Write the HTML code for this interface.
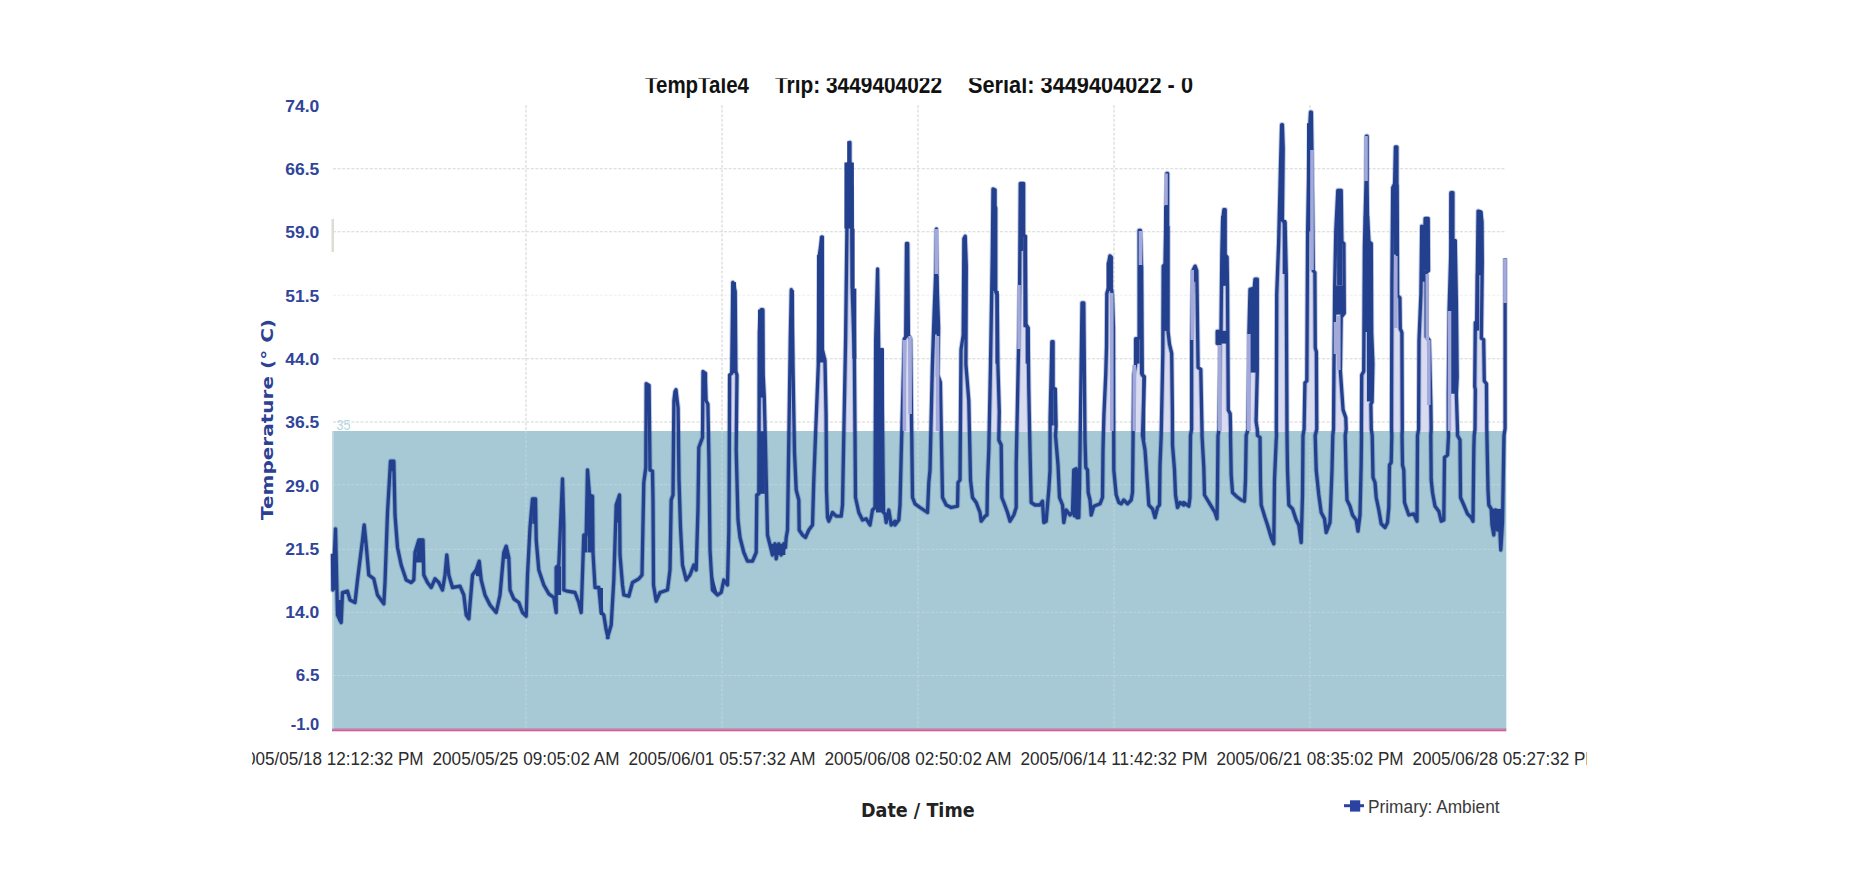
<!DOCTYPE html>
<html><head><meta charset="utf-8"><title>TempTale4 chart</title>
<style>
html,body{margin:0;padding:0;background:#fff;}
body{width:1854px;height:880px;overflow:hidden;position:relative;font-family:"Liberation Sans",sans-serif;}
svg{position:absolute;left:0;top:0;}
.yl{font-family:"Liberation Sans",sans-serif;font-weight:bold;font-size:16.6px;fill:#30449a;}
.xl{font-family:"Liberation Sans",sans-serif;font-size:17.5px;fill:#2b2b2b;}
.tt{font-family:"Liberation Sans",sans-serif;font-weight:bold;font-size:23px;fill:#111;}
</style></head><body>
<svg width="1854" height="880" viewBox="0 0 1854 880">
<defs>
<clipPath id="ct"><rect x="600" y="78.3" width="640" height="20"/></clipPath>
<clipPath id="cx"><rect x="252" y="745" width="1335" height="30"/></clipPath>
<filter id="bl2" x="-5%" y="-5%" width="110%" height="110%"><feGaussianBlur stdDeviation="1.2"/></filter>
<filter id="bl" x="-5%" y="-5%" width="110%" height="110%"><feGaussianBlur stdDeviation="0.75"/></filter>
</defs>
<rect x="0" y="0" width="1854" height="880" fill="#ffffff"/>

<line x1="333" x2="1506" y1="168.7" y2="168.7" stroke="#d6d6d6" stroke-width="1.1" stroke-dasharray="3 1.6"/>
<line x1="333" x2="1506" y1="231.7" y2="231.7" stroke="#d6d6d6" stroke-width="1.1" stroke-dasharray="3 1.6"/>
<line x1="333" x2="1506" y1="358.8" y2="358.8" stroke="#d6d6d6" stroke-width="1.1" stroke-dasharray="3 1.6"/>
<line x1="333" x2="1506" y1="422" y2="422" stroke="#d6d6d6" stroke-width="1.1" stroke-dasharray="3 1.6"/>
<line x1="333" x2="1506" y1="295.3" y2="295.3" stroke="#f0f0f0" stroke-width="1.1" stroke-dasharray="3 1.6"/>
<line x1="526" x2="526" y1="105" y2="431" stroke="#d6d6d6" stroke-width="1.1" stroke-dasharray="3 1.6"/>
<line x1="722" x2="722" y1="105" y2="431" stroke="#d6d6d6" stroke-width="1.1" stroke-dasharray="3 1.6"/>
<line x1="918" x2="918" y1="105" y2="431" stroke="#d6d6d6" stroke-width="1.1" stroke-dasharray="3 1.6"/>
<line x1="1114" x2="1114" y1="105" y2="431" stroke="#d6d6d6" stroke-width="1.1" stroke-dasharray="3 1.6"/>
<line x1="1310" x2="1310" y1="105" y2="431" stroke="#d6d6d6" stroke-width="1.1" stroke-dasharray="3 1.6"/>
<rect x="332" y="431" width="1174.3" height="298.5" fill="#a6c9d5"/>
<line x1="333" x2="1506" y1="484.8" y2="484.8" stroke="#bcd6df" stroke-width="1.1" stroke-dasharray="3 1.6"/>
<line x1="333" x2="1506" y1="549.2" y2="549.2" stroke="#bcd6df" stroke-width="1.1" stroke-dasharray="3 1.6"/>
<line x1="333" x2="1506" y1="612.2" y2="612.2" stroke="#bcd6df" stroke-width="1.1" stroke-dasharray="3 1.6"/>
<line x1="333" x2="1506" y1="675.5" y2="675.5" stroke="#bcd6df" stroke-width="1.1" stroke-dasharray="3 1.6"/>
<line x1="526" x2="526" y1="431" y2="728" stroke="#bcd6df" stroke-width="1.1" stroke-dasharray="3 1.6"/>
<line x1="722" x2="722" y1="431" y2="728" stroke="#bcd6df" stroke-width="1.1" stroke-dasharray="3 1.6"/>
<line x1="918" x2="918" y1="431" y2="728" stroke="#bcd6df" stroke-width="1.1" stroke-dasharray="3 1.6"/>
<line x1="1114" x2="1114" y1="431" y2="728" stroke="#bcd6df" stroke-width="1.1" stroke-dasharray="3 1.6"/>
<line x1="1310" x2="1310" y1="431" y2="728" stroke="#bcd6df" stroke-width="1.1" stroke-dasharray="3 1.6"/>
<rect x="332" y="728.2" width="1174.3" height="1.4" fill="#b690bd"/><rect x="332" y="729.4" width="1174.3" height="1.9" fill="#d0608f"/><rect x="332" y="431" width="1.8" height="297.5" fill="#c3dbe3"/>
<rect x="331.5" y="219" width="2.5" height="33" fill="#ddddd6"/>
<text x="336.5" y="429.5" textLength="14" lengthAdjust="spacingAndGlyphs" style="font-family:'Liberation Sans',sans-serif;font-size:15px;fill:#b4d6e2">35</text>
<polygon fill="#d9dbf0" points="673.9,432.0 673.9,400.6 675.0,391.5 676.0,389.7 677.0,398.8 678.1,407.9 678.1,432.0"/>
<polygon fill="#d9dbf0" points="703.0,432.0 703.0,371.5 705.5,373.3 705.5,380.6 706.1,400.6 707.9,404.2 707.9,432.0"/>
<polygon fill="#d9dbf0" points="729.6,432.0 729.6,375.1 731.7,373.3 732.8,282.4 733.3,284.2 735.2,291.5 735.9,371.5 737.0,375.1 737.0,432.0"/>
<polygon fill="#d9dbf0" points="759.4,432.0 759.4,331.5 761.2,309.7 761.8,309.7 762.1,309.7 762.8,309.7 763.2,375.1 764.3,397.0 764.3,432.0"/>
<polygon fill="#d9dbf0" points="790.3,432.0 790.3,338.8 791.3,289.7 792.3,324.2 792.3,432.0"/>
<polygon fill="#d9dbf0" points="818.3,432.0 818.3,364.2 819.4,255.1 821.9,237.0 822.2,237.0 822.4,349.7 825.0,360.6 826.1,415.1 826.1,432.0"/>
<polygon fill="#d9dbf0" points="845.6,432.0 845.6,338.8 847.7,164.2 849.2,226.1 849.9,142.4 850.0,226.1 850.0,160.6 850.8,226.1 851.5,186.1 852.3,291.5 854.4,357.0 854.4,432.0"/>
<polygon fill="#d9dbf0" points="875.7,432.0 875.7,338.8 877.6,269.0 878.7,349.7 878.7,349.7 879.9,349.7 881.7,349.7 881.7,432.0"/>
<polygon fill="#d9dbf0" points="904.3,432.0 904.3,338.8 905.7,337.0 906.5,243.5 907.7,243.5 908.4,335.1 910.6,338.8 910.6,432.0"/>
<polygon fill="#d9dbf0" points="932.3,432.0 932.3,367.9 934.1,313.3 935.6,275.1 936.4,229.0 936.4,229.0 936.8,275.1 938.6,327.9 937.9,375.1 940.4,382.4 940.4,432.0"/>
<polygon fill="#d9dbf0" points="961.0,432.0 961.0,349.7 963.2,335.1 963.9,238.8 965.2,236.2 966.3,266.1 965.9,364.2 968.8,400.6 968.8,432.0"/>
<polygon fill="#d9dbf0" points="990.5,432.0 990.5,364.2 992.3,255.1 993.0,189.0 994.9,189.7 994.9,206.1 995.7,207.9 995.7,291.5 997.2,295.1 997.9,364.2 999.3,411.5 999.3,432.0"/>
<polygon fill="#d9dbf0" points="1018.5,432.0 1018.5,349.7 1019.6,284.2 1020.3,183.5 1023.6,183.5 1023.6,235.1 1025.2,236.2 1025.9,324.2 1028.1,327.9 1028.8,389.7 1028.8,432.0"/>
<polygon fill="#d9dbf0" points="1050.1,432.0 1050.1,418.8 1051.9,341.7 1053.1,341.7 1053.1,387.9 1055.3,389.0 1056.1,426.1 1056.1,432.0"/>
<polygon fill="#d9dbf0" points="1103.9,432.0 1103.9,415.1 1105.7,375.1 1106.5,346.1 1106.8,293.3 1108.7,287.9 1108.7,262.4 1109.9,255.9 1111.3,257.0 1111.3,287.9 1112.4,295.1 1113.5,327.9 1113.5,432.0"/>
<polygon fill="#d9dbf0" points="1133.7,432.0 1133.7,375.1 1135.6,364.2 1135.6,338.8 1139.1,337.7 1139.1,266.1 1139.1,230.4 1140.4,230.4 1141.5,266.1 1142.3,375.1 1144.4,377.0 1144.4,432.0"/>
<polygon fill="#d9dbf0" points="1162.8,432.0 1162.8,353.3 1163.2,266.1 1165.0,264.2 1166.1,206.1 1166.8,173.3 1167.6,173.3 1167.6,226.1 1168.1,226.8 1168.1,331.5 1169.5,344.2 1171.7,353.3 1172.4,411.5 1172.4,432.0"/>
<polygon fill="#d9dbf0" points="1191.6,432.0 1191.6,429.2 1191.6,340.3 1192.8,270.7 1195.1,266.1 1196.8,270.7 1197.0,284.2 1198.1,367.4 1200.8,369.3 1202.0,429.2 1202.0,432.0"/>
<polygon fill="#d9dbf0" points="1219.1,432.0 1219.1,429.2 1219.9,344.2 1217.2,343.4 1217.2,331.4 1221.0,330.6 1221.8,255.2 1222.6,220.4 1223.9,209.6 1225.2,209.6 1225.2,255.2 1227.1,257.2 1227.5,286.2 1228.3,409.9 1230.2,413.7 1230.6,429.2 1230.6,432.0"/>
<polygon fill="#d9dbf0" points="1248.1,432.0 1248.1,429.2 1248.9,332.6 1250.0,289.3 1254.2,288.1 1255.0,279.2 1257.3,279.2 1257.3,371.2 1256.1,421.5 1257.3,429.2 1257.3,432.0"/>
<polygon fill="#d9dbf0" points="1276.3,432.0 1276.3,429.2 1276.7,293.9 1278.6,243.6 1280.6,162.5 1281.7,124.6 1282.4,124.6 1283.2,148.9 1282.4,220.4 1285.1,222.4 1286.3,274.6 1287.0,429.2 1287.0,432.0"/>
<polygon fill="#d9dbf0" points="1304.1,432.0 1304.1,429.2 1304.9,382.8 1306.8,380.9 1307.6,232.0 1308.8,170.2 1309.9,123.8 1310.5,112.2 1311.4,112.2 1312.2,170.2 1313.3,270.7 1314.9,272.6 1315.3,348.0 1316.4,351.9 1316.8,429.2 1316.8,432.0"/>
<polygon fill="#d9dbf0" points="1333.5,432.0 1333.5,429.2 1333.9,371.2 1334.7,286.2 1335.8,230.1 1337.8,190.3 1341.2,190.3 1341.9,241.7 1343.9,243.6 1344.3,313.2 1341.2,317.1 1340.4,371.2 1343.1,409.9 1345.8,417.6 1346.2,429.2 1346.2,432.0"/>
<polygon fill="#d9dbf0" points="1361.4,432.0 1361.4,429.2 1361.7,375.1 1363.7,371.2 1364.4,247.5 1366.0,181.8 1366.4,136.2 1367.1,136.2 1367.1,181.8 1367.5,216.6 1369.0,241.7 1371.3,243.6 1371.7,332.6 1372.9,363.5 1372.1,402.1 1370.9,404.1 1371.3,429.2 1371.3,432.0"/>
<polygon fill="#d9dbf0" points="1391.5,432.0 1391.5,429.2 1391.9,282.3 1392.7,187.6 1394.6,183.7 1395.4,147.0 1396.9,147.0 1396.9,183.7 1397.2,185.7 1397.6,295.8 1399.9,297.8 1400.3,328.7 1401.9,332.6 1402.3,429.2 1402.3,432.0"/>
<polygon fill="#d9dbf0" points="1418.6,432.0 1418.6,429.2 1419.0,340.3 1420.9,293.9 1421.7,226.2 1424.8,227.4 1424.9,234.0 1424.9,232.0 1425.1,218.5 1428.2,218.5 1428.5,270.7 1426.2,272.6 1426.2,336.4 1429.3,340.3 1430.9,406.0 1431.2,429.2 1431.2,432.0"/>
<polygon fill="#d9dbf0" points="1448.3,432.0 1448.3,429.2 1448.3,394.4 1449.1,309.4 1450.7,255.2 1451.0,192.6 1452.9,192.6 1452.9,239.8 1455.2,240.5 1456.4,301.6 1457.2,377.0 1456.4,394.4 1457.5,429.2 1457.5,432.0"/>
<polygon fill="#d9dbf0" points="1475.0,432.0 1475.0,429.2 1475.3,389.5 1474.7,386.6 1475.3,322.7 1476.7,321.3 1477.3,274.4 1478.1,211.1 1480.8,211.9 1482.0,221.8 1482.3,261.6 1481.4,338.3 1483.7,339.7 1484.3,380.9 1486.5,383.8 1486.8,429.2 1486.8,432.0"/>
<polyline fill="none" stroke="#24408e" stroke-opacity="0.28" stroke-width="5.2" stroke-linejoin="round" filter="url(#bl)" points="332.5,553.8 332.8,590.0 335.5,528.8 337.5,615.0 341.2,622.5 342.5,592.5 347.5,591.2 350.0,600.0 355.0,602.5 357.5,580.0 362.5,540.0 364.2,525.0 366.2,545.0 368.8,575.0 373.8,578.8 377.5,595.0 383.8,603.8 385.0,582.5 387.5,512.5 390.5,461.2 393.8,461.2 395.0,515.0 397.5,547.5 401.2,565.0 406.2,580.0 411.2,582.5 413.8,580.0 415.0,552.5 418.8,540.0 423.0,540.0 423.8,575.0 427.5,582.5 431.2,587.5 435.0,578.8 438.8,582.5 442.5,590.0 445.0,575.0 446.8,555.0 448.8,575.0 452.5,587.5 460.0,586.2 463.8,595.0 466.2,615.0 468.8,618.8 472.5,575.0 476.2,570.0 479.2,561.2 481.2,580.0 485.0,595.0 490.0,605.0 496.2,612.5 500.0,595.0 503.8,552.5 506.2,546.2 508.8,557.5 510.0,590.0 513.8,598.8 518.8,602.5 522.5,612.5 526.2,616.2 527.5,575.0 530.0,527.5 532.5,498.8 535.5,498.8 536.2,540.0 538.8,570.0 543.8,585.0 548.8,593.8 553.8,597.5 556.2,612.5 556.2,567.5 558.8,565.0 560.5,525.0 562.5,478.8 563.8,525.0 563.8,590.0 567.5,591.2 575.0,592.5 578.8,602.5 581.2,612.5 583.8,535.0 586.2,535.0 587.5,470.0 589.5,495.0 592.5,496.2 593.0,552.5 595.0,587.5 598.8,587.5 601.2,612.5 603.8,615.0 606.2,630.0 608.0,637.5 607.5,637.5 611.2,625.0 613.8,580.0 616.2,505.0 619.5,495.0 620.0,555.0 622.5,585.0 623.8,595.0 628.8,596.2 632.5,582.5 638.8,578.8 642.0,575.0 643.8,482.5 645.8,467.5 646.2,383.6 649.1,385.5 650.0,470.0 652.5,471.2 653.0,500.0 653.5,585.0 656.2,601.2 660.0,592.5 667.5,590.0 670.0,570.0 671.2,500.0 673.0,495.0 673.9,400.6 675.0,391.5 676.0,389.7 677.0,398.8 678.1,407.9 679.0,480.0 680.5,527.5 682.5,565.0 686.2,580.0 690.0,575.0 693.8,565.0 696.2,570.0 698.0,507.5 698.8,447.5 702.5,437.5 703.0,371.5 705.5,373.3 705.5,380.6 706.1,400.6 707.9,404.2 709.0,462.5 710.0,550.0 711.2,570.0 712.5,590.0 717.5,595.0 721.2,592.5 723.8,580.0 727.5,585.0 728.8,532.5 729.2,480.0 729.6,375.1 731.7,373.3 732.8,282.4 733.3,284.2 735.2,291.5 735.9,371.5 737.0,375.1 736.2,450.0 738.0,520.0 740.0,537.5 743.8,552.5 747.5,561.2 752.5,561.2 756.2,552.5 756.8,495.0 758.8,493.8 759.4,331.5 761.2,309.7 761.8,309.7 762.1,309.7 762.8,309.7 763.2,375.1 764.3,397.0 766.2,477.5 767.5,535.0 770.0,545.0 772.5,555.0 775.0,543.8 776.2,558.8 778.8,543.8 781.2,555.0 783.8,543.8 785.5,547.5 786.2,537.5 787.5,530.0 790.3,338.8 791.3,289.7 792.3,324.2 794.5,452.5 796.2,490.0 798.8,500.0 799.2,530.0 802.5,535.0 805.5,537.5 808.8,530.0 812.5,525.0 813.8,480.0 818.3,364.2 819.4,255.1 821.9,237.0 822.2,237.0 822.4,349.7 825.0,360.6 826.1,415.1 826.5,490.0 827.5,517.5 828.8,521.2 832.5,512.5 836.2,516.2 841.2,516.2 842.5,505.0 843.0,477.5 845.6,338.8 847.7,164.2 849.2,226.1 849.9,142.4 850.0,226.1 850.0,160.6 850.8,226.1 851.5,186.1 852.3,291.5 854.4,357.0 855.5,497.5 858.8,512.5 862.5,520.0 866.2,518.8 870.0,525.0 872.5,510.0 875.0,507.5 875.7,338.8 877.6,269.0 878.7,349.7 878.7,349.7 879.9,349.7 881.7,349.7 883.5,512.5 885.0,513.8 886.2,522.5 888.8,510.0 891.2,525.0 895.0,521.2 895.0,525.0 898.8,520.0 900.0,505.0 901.2,455.0 904.3,338.8 905.7,337.0 906.5,243.5 907.7,243.5 908.4,335.1 910.6,338.8 912.5,497.5 915.0,503.8 920.0,507.5 927.5,512.5 928.8,482.5 930.0,470.0 932.3,367.9 934.1,313.3 935.6,275.1 936.4,229.0 936.4,229.0 936.8,275.1 938.6,327.9 937.9,375.1 940.4,382.4 942.0,470.0 942.5,497.5 946.2,505.0 951.2,507.5 957.5,506.2 958.0,482.5 960.0,480.0 961.0,349.7 963.2,335.1 963.9,238.8 965.2,236.2 966.3,266.1 965.9,364.2 968.8,400.6 970.5,480.0 972.5,497.5 976.2,502.5 980.0,512.5 981.2,521.2 985.0,516.2 987.0,515.0 987.5,482.5 988.8,450.0 990.5,364.2 992.3,255.1 993.0,189.0 994.9,189.7 994.9,206.1 995.7,207.9 995.7,291.5 997.2,295.1 997.9,364.2 999.3,411.5 998.8,440.0 1001.2,445.0 1001.8,497.5 1003.8,502.5 1007.5,512.5 1010.0,521.2 1013.8,515.0 1016.2,507.5 1016.2,465.0 1018.5,349.7 1019.6,284.2 1020.3,183.5 1023.6,183.5 1023.6,235.1 1025.2,236.2 1025.9,324.2 1028.1,327.9 1028.8,389.7 1030.0,450.0 1031.2,502.5 1035.0,505.0 1040.0,505.0 1042.5,501.2 1043.8,522.5 1046.2,521.2 1047.5,505.0 1048.8,490.0 1050.0,470.0 1050.1,418.8 1051.9,341.7 1053.1,341.7 1053.1,387.9 1055.3,389.0 1056.1,426.1 1055.5,435.5 1058.0,465.0 1059.5,497.5 1062.5,505.0 1063.8,522.5 1066.2,510.0 1070.0,515.0 1072.5,512.5 1073.8,470.0 1076.2,468.8 1077.0,517.5 1078.8,517.5 1079.5,487.5 1082.0,302.9 1083.8,302.9 1085.0,440.0 1085.8,467.5 1087.5,470.0 1088.2,492.5 1090.0,500.0 1091.2,515.0 1093.8,506.2 1100.0,503.8 1102.5,497.5 1103.0,450.0 1103.9,415.1 1105.7,375.1 1106.5,346.1 1106.8,293.3 1108.7,287.9 1108.7,262.4 1109.9,255.9 1111.3,257.0 1111.3,287.9 1112.4,295.1 1113.5,327.9 1113.8,470.0 1116.2,495.0 1118.8,502.5 1121.2,503.8 1123.8,500.0 1127.5,503.8 1131.2,500.0 1132.5,492.5 1133.0,445.0 1133.7,375.1 1135.6,364.2 1135.6,338.8 1139.1,337.7 1139.1,266.1 1139.1,230.4 1140.4,230.4 1141.5,266.1 1142.3,375.1 1144.4,377.0 1142.5,435.5 1145.0,450.0 1147.5,485.0 1148.8,505.0 1152.5,508.8 1155.0,517.5 1157.5,507.5 1159.5,505.0 1160.0,465.0 1161.2,435.5 1162.8,353.3 1163.2,266.1 1165.0,264.2 1166.1,206.1 1166.8,173.3 1167.6,173.3 1167.6,226.1 1168.1,226.8 1168.1,331.5 1169.5,344.2 1171.7,353.3 1172.4,411.5 1172.5,445.0 1174.5,470.0 1175.5,495.0 1177.5,507.5 1180.0,502.5 1183.8,505.0 1183.8,502.5 1188.8,506.2 1190.0,497.5 1190.5,435.5 1191.6,429.2 1191.6,340.3 1192.8,270.7 1195.1,266.1 1196.8,270.7 1197.0,284.2 1198.1,367.4 1200.8,369.3 1202.0,429.2 1202.0,435.5 1203.8,467.5 1204.5,495.0 1207.5,500.0 1211.2,506.2 1215.0,512.5 1217.0,518.8 1217.5,487.5 1218.0,435.5 1219.1,429.2 1219.9,344.2 1217.2,343.4 1217.2,331.4 1221.0,330.6 1221.8,255.2 1222.6,220.4 1223.9,209.6 1225.2,209.6 1225.2,255.2 1227.1,257.2 1227.5,286.2 1228.3,409.9 1230.2,413.7 1230.6,429.2 1230.5,435.5 1231.2,475.0 1232.5,492.5 1236.2,496.2 1241.2,500.0 1244.5,501.2 1245.5,480.0 1246.2,435.5 1248.1,429.2 1248.9,332.6 1250.0,289.3 1254.2,288.1 1255.0,279.2 1257.3,279.2 1257.3,371.2 1256.1,421.5 1257.3,429.2 1257.5,435.5 1260.0,437.5 1260.5,485.0 1261.2,505.0 1265.0,517.5 1267.5,525.0 1271.2,537.5 1273.8,543.8 1274.5,480.0 1276.2,440.0 1276.5,435.5 1276.3,429.2 1276.7,293.9 1278.6,243.6 1280.6,162.5 1281.7,124.6 1282.4,124.6 1283.2,148.9 1282.4,220.4 1285.1,222.4 1286.3,274.6 1287.0,429.2 1287.0,435.5 1287.5,470.0 1288.8,505.0 1292.5,508.8 1296.2,520.0 1298.8,525.0 1301.2,542.5 1302.5,495.0 1303.0,435.5 1304.1,429.2 1304.9,382.8 1306.8,380.9 1307.6,232.0 1308.8,170.2 1309.9,123.8 1310.5,112.2 1311.4,112.2 1312.2,170.2 1313.3,270.7 1314.9,272.6 1315.3,348.0 1316.4,351.9 1316.8,429.2 1315.2,435.5 1316.2,470.0 1318.8,495.0 1321.2,512.5 1324.5,518.8 1326.2,532.5 1330.0,522.5 1332.0,470.0 1332.8,435.5 1333.5,429.2 1333.9,371.2 1334.7,286.2 1335.8,230.1 1337.8,190.3 1341.2,190.3 1341.9,241.7 1343.9,243.6 1344.3,313.2 1341.2,317.1 1340.4,371.2 1343.1,409.9 1345.8,417.6 1346.2,429.2 1345.2,435.5 1346.2,477.5 1347.0,500.0 1350.0,506.2 1352.5,515.0 1356.2,520.0 1358.0,531.2 1360.0,515.0 1361.2,462.5 1361.5,435.5 1361.4,429.2 1361.7,375.1 1363.7,371.2 1364.4,247.5 1366.0,181.8 1366.4,136.2 1367.1,136.2 1367.1,181.8 1367.5,216.6 1369.0,241.7 1371.3,243.6 1371.7,332.6 1372.9,363.5 1372.1,402.1 1370.9,404.1 1371.3,429.2 1372.2,435.5 1373.0,477.5 1375.0,482.5 1376.2,497.5 1378.8,510.0 1381.2,523.8 1385.0,527.5 1387.5,522.5 1388.8,507.5 1389.5,465.0 1391.2,462.5 1391.8,435.5 1391.5,429.2 1391.9,282.3 1392.7,187.6 1394.6,183.7 1395.4,147.0 1396.9,147.0 1396.9,183.7 1397.2,185.7 1397.6,295.8 1399.9,297.8 1400.3,328.7 1401.9,332.6 1402.3,429.2 1402.0,435.5 1402.5,465.0 1403.8,470.0 1404.5,502.5 1406.2,507.5 1408.8,515.0 1413.8,513.8 1417.0,521.2 1417.5,435.5 1418.6,429.2 1419.0,340.3 1420.9,293.9 1421.7,226.2 1424.8,227.4 1424.9,234.0 1424.9,232.0 1425.1,218.5 1428.2,218.5 1428.5,270.7 1426.2,272.6 1426.2,336.4 1429.3,340.3 1430.9,406.0 1431.2,429.2 1430.8,435.5 1431.2,480.0 1432.5,492.5 1435.0,506.2 1438.8,511.2 1441.2,521.2 1443.8,520.0 1444.5,457.5 1447.5,455.0 1448.5,435.5 1448.3,429.2 1448.3,394.4 1449.1,309.4 1450.7,255.2 1451.0,192.6 1452.9,192.6 1452.9,239.8 1455.2,240.5 1456.4,301.6 1457.2,377.0 1456.4,394.4 1457.5,429.2 1457.5,435.5 1460.0,440.0 1460.5,497.5 1463.8,505.0 1467.5,513.8 1471.2,517.5 1473.0,521.2 1473.8,450.0 1474.2,435.5 1475.0,429.2 1475.3,389.5 1474.7,386.6 1475.3,322.7 1476.7,321.3 1477.3,274.4 1478.1,211.1 1480.8,211.9 1482.0,221.8 1482.3,261.6 1481.4,338.3 1483.7,339.7 1484.3,380.9 1486.5,383.8 1486.8,429.2 1487.0,440.0 1488.0,490.0 1488.8,505.0 1491.2,508.8 1492.0,525.0 1493.8,535.0 1495.5,510.0 1497.5,530.0 1499.5,522.5 1500.8,550.0 1502.5,522.5 1503.8,445.0 1504.0,435.5 1505.1,428.6 1505.1,258.2"/>
<g filter="url(#bl)">
<polyline fill="none" stroke="#24408e" stroke-width="3.3" stroke-linejoin="round" points="332.5,553.8 332.8,590.0 335.5,528.8 337.5,615.0 341.2,622.5 342.5,592.5 347.5,591.2 350.0,600.0 355.0,602.5 357.5,580.0 362.5,540.0 364.2,525.0 366.2,545.0 368.8,575.0 373.8,578.8 377.5,595.0 383.8,603.8 385.0,582.5 387.5,512.5 390.5,461.2 393.8,461.2 395.0,515.0 397.5,547.5 401.2,565.0 406.2,580.0 411.2,582.5 413.8,580.0 415.0,552.5 418.8,540.0 423.0,540.0 423.8,575.0 427.5,582.5 431.2,587.5 435.0,578.8 438.8,582.5 442.5,590.0 445.0,575.0 446.8,555.0 448.8,575.0 452.5,587.5 460.0,586.2 463.8,595.0 466.2,615.0 468.8,618.8 472.5,575.0 476.2,570.0 479.2,561.2 481.2,580.0 485.0,595.0 490.0,605.0 496.2,612.5 500.0,595.0 503.8,552.5 506.2,546.2 508.8,557.5 510.0,590.0 513.8,598.8 518.8,602.5 522.5,612.5 526.2,616.2 527.5,575.0 530.0,527.5 532.5,498.8 535.5,498.8 536.2,540.0 538.8,570.0 543.8,585.0 548.8,593.8 553.8,597.5 556.2,612.5 556.2,567.5 558.8,565.0 560.5,525.0 562.5,478.8 563.8,525.0 563.8,590.0 567.5,591.2 575.0,592.5 578.8,602.5 581.2,612.5 583.8,535.0 586.2,535.0 587.5,470.0 589.5,495.0 592.5,496.2 593.0,552.5 595.0,587.5 598.8,587.5 601.2,612.5 603.8,615.0 606.2,630.0 608.0,637.5 607.5,637.5 611.2,625.0 613.8,580.0 616.2,505.0 619.5,495.0 620.0,555.0 622.5,585.0 623.8,595.0 628.8,596.2 632.5,582.5 638.8,578.8 642.0,575.0 643.8,482.5 645.8,467.5 646.2,383.6 649.1,385.5 650.0,470.0 652.5,471.2 653.0,500.0 653.5,585.0 656.2,601.2 660.0,592.5 667.5,590.0 670.0,570.0 671.2,500.0 673.0,495.0 673.9,400.6 675.0,391.5 676.0,389.7 677.0,398.8 678.1,407.9 679.0,480.0 680.5,527.5 682.5,565.0 686.2,580.0 690.0,575.0 693.8,565.0 696.2,570.0 698.0,507.5 698.8,447.5 702.5,437.5 703.0,371.5 705.5,373.3 705.5,380.6 706.1,400.6 707.9,404.2 709.0,462.5 710.0,550.0 711.2,570.0 712.5,590.0 717.5,595.0 721.2,592.5 723.8,580.0 727.5,585.0 728.8,532.5 729.2,480.0 729.6,375.1 731.7,373.3 732.8,282.4 733.3,284.2 735.2,291.5 735.9,371.5 737.0,375.1 736.2,450.0 738.0,520.0 740.0,537.5 743.8,552.5 747.5,561.2 752.5,561.2 756.2,552.5 756.8,495.0 758.8,493.8 759.4,331.5 761.2,309.7 761.8,309.7 762.1,309.7 762.8,309.7 763.2,375.1 764.3,397.0 766.2,477.5 767.5,535.0 770.0,545.0 772.5,555.0 775.0,543.8 776.2,558.8 778.8,543.8 781.2,555.0 783.8,543.8 785.5,547.5 786.2,537.5 787.5,530.0 790.3,338.8 791.3,289.7 792.3,324.2 794.5,452.5 796.2,490.0 798.8,500.0 799.2,530.0 802.5,535.0 805.5,537.5 808.8,530.0 812.5,525.0 813.8,480.0 818.3,364.2 819.4,255.1 821.9,237.0 822.2,237.0 822.4,349.7 825.0,360.6 826.1,415.1 826.5,490.0 827.5,517.5 828.8,521.2 832.5,512.5 836.2,516.2 841.2,516.2 842.5,505.0 843.0,477.5 845.6,338.8 847.7,164.2 849.2,226.1 849.9,142.4 850.0,226.1 850.0,160.6 850.8,226.1 851.5,186.1 852.3,291.5 854.4,357.0 855.5,497.5 858.8,512.5 862.5,520.0 866.2,518.8 870.0,525.0 872.5,510.0 875.0,507.5 875.7,338.8 877.6,269.0 878.7,349.7 878.7,349.7 879.9,349.7 881.7,349.7 883.5,512.5 885.0,513.8 886.2,522.5 888.8,510.0 891.2,525.0 895.0,521.2 895.0,525.0 898.8,520.0 900.0,505.0 901.2,455.0 904.3,338.8 905.7,337.0 906.5,243.5 907.7,243.5 908.4,335.1 910.6,338.8 912.5,497.5 915.0,503.8 920.0,507.5 927.5,512.5 928.8,482.5 930.0,470.0 932.3,367.9 934.1,313.3 935.6,275.1 936.4,229.0 936.4,229.0 936.8,275.1 938.6,327.9 937.9,375.1 940.4,382.4 942.0,470.0 942.5,497.5 946.2,505.0 951.2,507.5 957.5,506.2 958.0,482.5 960.0,480.0 961.0,349.7 963.2,335.1 963.9,238.8 965.2,236.2 966.3,266.1 965.9,364.2 968.8,400.6 970.5,480.0 972.5,497.5 976.2,502.5 980.0,512.5 981.2,521.2 985.0,516.2 987.0,515.0 987.5,482.5 988.8,450.0 990.5,364.2 992.3,255.1 993.0,189.0 994.9,189.7 994.9,206.1 995.7,207.9 995.7,291.5 997.2,295.1 997.9,364.2 999.3,411.5 998.8,440.0 1001.2,445.0 1001.8,497.5 1003.8,502.5 1007.5,512.5 1010.0,521.2 1013.8,515.0 1016.2,507.5 1016.2,465.0 1018.5,349.7 1019.6,284.2 1020.3,183.5 1023.6,183.5 1023.6,235.1 1025.2,236.2 1025.9,324.2 1028.1,327.9 1028.8,389.7 1030.0,450.0 1031.2,502.5 1035.0,505.0 1040.0,505.0 1042.5,501.2 1043.8,522.5 1046.2,521.2 1047.5,505.0 1048.8,490.0 1050.0,470.0 1050.1,418.8 1051.9,341.7 1053.1,341.7 1053.1,387.9 1055.3,389.0 1056.1,426.1 1055.5,435.5 1058.0,465.0 1059.5,497.5 1062.5,505.0 1063.8,522.5 1066.2,510.0 1070.0,515.0 1072.5,512.5 1073.8,470.0 1076.2,468.8 1077.0,517.5 1078.8,517.5 1079.5,487.5 1082.0,302.9 1083.8,302.9 1085.0,440.0 1085.8,467.5 1087.5,470.0 1088.2,492.5 1090.0,500.0 1091.2,515.0 1093.8,506.2 1100.0,503.8 1102.5,497.5 1103.0,450.0 1103.9,415.1 1105.7,375.1 1106.5,346.1 1106.8,293.3 1108.7,287.9 1108.7,262.4 1109.9,255.9 1111.3,257.0 1111.3,287.9 1112.4,295.1 1113.5,327.9 1113.8,470.0 1116.2,495.0 1118.8,502.5 1121.2,503.8 1123.8,500.0 1127.5,503.8 1131.2,500.0 1132.5,492.5 1133.0,445.0 1133.7,375.1 1135.6,364.2 1135.6,338.8 1139.1,337.7 1139.1,266.1 1139.1,230.4 1140.4,230.4 1141.5,266.1 1142.3,375.1 1144.4,377.0 1142.5,435.5 1145.0,450.0 1147.5,485.0 1148.8,505.0 1152.5,508.8 1155.0,517.5 1157.5,507.5 1159.5,505.0 1160.0,465.0 1161.2,435.5 1162.8,353.3 1163.2,266.1 1165.0,264.2 1166.1,206.1 1166.8,173.3 1167.6,173.3 1167.6,226.1 1168.1,226.8 1168.1,331.5 1169.5,344.2 1171.7,353.3 1172.4,411.5 1172.5,445.0 1174.5,470.0 1175.5,495.0 1177.5,507.5 1180.0,502.5 1183.8,505.0 1183.8,502.5 1188.8,506.2 1190.0,497.5 1190.5,435.5 1191.6,429.2 1191.6,340.3 1192.8,270.7 1195.1,266.1 1196.8,270.7 1197.0,284.2 1198.1,367.4 1200.8,369.3 1202.0,429.2 1202.0,435.5 1203.8,467.5 1204.5,495.0 1207.5,500.0 1211.2,506.2 1215.0,512.5 1217.0,518.8 1217.5,487.5 1218.0,435.5 1219.1,429.2 1219.9,344.2 1217.2,343.4 1217.2,331.4 1221.0,330.6 1221.8,255.2 1222.6,220.4 1223.9,209.6 1225.2,209.6 1225.2,255.2 1227.1,257.2 1227.5,286.2 1228.3,409.9 1230.2,413.7 1230.6,429.2 1230.5,435.5 1231.2,475.0 1232.5,492.5 1236.2,496.2 1241.2,500.0 1244.5,501.2 1245.5,480.0 1246.2,435.5 1248.1,429.2 1248.9,332.6 1250.0,289.3 1254.2,288.1 1255.0,279.2 1257.3,279.2 1257.3,371.2 1256.1,421.5 1257.3,429.2 1257.5,435.5 1260.0,437.5 1260.5,485.0 1261.2,505.0 1265.0,517.5 1267.5,525.0 1271.2,537.5 1273.8,543.8 1274.5,480.0 1276.2,440.0 1276.5,435.5 1276.3,429.2 1276.7,293.9 1278.6,243.6 1280.6,162.5 1281.7,124.6 1282.4,124.6 1283.2,148.9 1282.4,220.4 1285.1,222.4 1286.3,274.6 1287.0,429.2 1287.0,435.5 1287.5,470.0 1288.8,505.0 1292.5,508.8 1296.2,520.0 1298.8,525.0 1301.2,542.5 1302.5,495.0 1303.0,435.5 1304.1,429.2 1304.9,382.8 1306.8,380.9 1307.6,232.0 1308.8,170.2 1309.9,123.8 1310.5,112.2 1311.4,112.2 1312.2,170.2 1313.3,270.7 1314.9,272.6 1315.3,348.0 1316.4,351.9 1316.8,429.2 1315.2,435.5 1316.2,470.0 1318.8,495.0 1321.2,512.5 1324.5,518.8 1326.2,532.5 1330.0,522.5 1332.0,470.0 1332.8,435.5 1333.5,429.2 1333.9,371.2 1334.7,286.2 1335.8,230.1 1337.8,190.3 1341.2,190.3 1341.9,241.7 1343.9,243.6 1344.3,313.2 1341.2,317.1 1340.4,371.2 1343.1,409.9 1345.8,417.6 1346.2,429.2 1345.2,435.5 1346.2,477.5 1347.0,500.0 1350.0,506.2 1352.5,515.0 1356.2,520.0 1358.0,531.2 1360.0,515.0 1361.2,462.5 1361.5,435.5 1361.4,429.2 1361.7,375.1 1363.7,371.2 1364.4,247.5 1366.0,181.8 1366.4,136.2 1367.1,136.2 1367.1,181.8 1367.5,216.6 1369.0,241.7 1371.3,243.6 1371.7,332.6 1372.9,363.5 1372.1,402.1 1370.9,404.1 1371.3,429.2 1372.2,435.5 1373.0,477.5 1375.0,482.5 1376.2,497.5 1378.8,510.0 1381.2,523.8 1385.0,527.5 1387.5,522.5 1388.8,507.5 1389.5,465.0 1391.2,462.5 1391.8,435.5 1391.5,429.2 1391.9,282.3 1392.7,187.6 1394.6,183.7 1395.4,147.0 1396.9,147.0 1396.9,183.7 1397.2,185.7 1397.6,295.8 1399.9,297.8 1400.3,328.7 1401.9,332.6 1402.3,429.2 1402.0,435.5 1402.5,465.0 1403.8,470.0 1404.5,502.5 1406.2,507.5 1408.8,515.0 1413.8,513.8 1417.0,521.2 1417.5,435.5 1418.6,429.2 1419.0,340.3 1420.9,293.9 1421.7,226.2 1424.8,227.4 1424.9,234.0 1424.9,232.0 1425.1,218.5 1428.2,218.5 1428.5,270.7 1426.2,272.6 1426.2,336.4 1429.3,340.3 1430.9,406.0 1431.2,429.2 1430.8,435.5 1431.2,480.0 1432.5,492.5 1435.0,506.2 1438.8,511.2 1441.2,521.2 1443.8,520.0 1444.5,457.5 1447.5,455.0 1448.5,435.5 1448.3,429.2 1448.3,394.4 1449.1,309.4 1450.7,255.2 1451.0,192.6 1452.9,192.6 1452.9,239.8 1455.2,240.5 1456.4,301.6 1457.2,377.0 1456.4,394.4 1457.5,429.2 1457.5,435.5 1460.0,440.0 1460.5,497.5 1463.8,505.0 1467.5,513.8 1471.2,517.5 1473.0,521.2 1473.8,450.0 1474.2,435.5 1475.0,429.2 1475.3,389.5 1474.7,386.6 1475.3,322.7 1476.7,321.3 1477.3,274.4 1478.1,211.1 1480.8,211.9 1482.0,221.8 1482.3,261.6 1481.4,338.3 1483.7,339.7 1484.3,380.9 1486.5,383.8 1486.8,429.2 1487.0,440.0 1488.0,490.0 1488.8,505.0 1491.2,508.8 1492.0,525.0 1493.8,535.0 1495.5,510.0 1497.5,530.0 1499.5,522.5 1500.8,550.0 1502.5,522.5 1503.8,445.0 1504.0,435.5 1505.1,428.6 1505.1,258.2"/>
<polygon fill="#24408e" points="415.0,562.5 418.8,540.5 423.0,540.5 423.8,562.5"/>
<polygon fill="#24408e" points="587.6,496.2 592.1,496.2 592.1,552.5 587.6,552.5"/>
<polygon fill="#24408e" points="583.5,535.5 587.2,535.5 587.2,552.5 583.5,552.5"/>
<polygon fill="#24408e" points="556.9,566.2 561.1,566.2 561.1,595.0 556.9,595.0"/>
<polygon fill="#24408e" points="532.3,499.2 536.0,499.2 536.0,523.8 532.3,523.8"/>
<polygon fill="#24408e" points="362.0,527.5 364.2,525.5 366.2,542.5 362.5,542.5"/>
<polygon fill="#24408e" points="390.8,461.2 394.2,461.2 394.2,471.2 390.8,471.2"/>
<polygon fill="#24408e" points="599.8,588.0 603.0,588.0 603.0,615.0 599.8,615.0"/>
<polygon fill="#24408e" points="615.8,505.5 619.2,505.5 619.2,522.5 615.8,522.5"/>
<polygon fill="#24408e" points="332.8,555.0 335.9,555.0 335.9,590.0 332.8,590.0"/>
<polygon fill="#24408e" points="338.3,600.0 342.2,600.0 342.2,621.2 338.3,621.2"/>
<polygon fill="#24408e" points="475.0,571.2 479.2,562.5 481.2,576.2 476.2,576.2"/>
<polygon fill="#24408e" points="504.6,550.0 508.6,550.0 508.6,558.8 504.6,558.8"/>
<polygon fill="#24408e" points="731.5,282.1 736.1,282.1 736.1,373.0 731.5,373.0"/>
<polygon fill="#24408e" points="757.9,309.6 764.2,309.6 764.2,397.6 757.9,397.6"/>
<polygon fill="#24408e" points="790.7,290.2 794.2,290.2 794.2,358.9 790.7,358.9"/>
<polygon fill="#24408e" points="816.9,255.0 819.7,255.0 819.7,236.3 823.9,236.3 823.9,362.4 816.9,362.4"/>
<polygon fill="#24408e" points="844.4,162.4 847.2,162.4 847.2,141.3 850.7,141.3 850.7,162.4 853.9,162.4 853.9,228.6 844.4,228.6"/>
<polygon fill="#24408e" points="850.7,228.6 854.6,228.6 854.6,288.5 850.7,288.5"/>
<polygon fill="#24408e" points="852.4,288.5 856.4,288.5 856.4,358.9 852.4,358.9"/>
<polygon fill="#24408e" points="874.1,348.3 884.0,348.3 884.0,506.8 874.1,506.8"/>
<polygon fill="#24408e" points="770.9,543.8 785.4,543.8 785.4,555.0 770.9,555.0"/>
<polygon fill="#24408e" points="758.9,431.2 764.9,431.2 764.9,493.8 758.9,493.8"/>
<polygon fill="#24408e" points="711.2,570.0 717.5,593.0 712.5,592.0"/>
<polygon fill="#24408e" points="683.0,566.2 687.5,580.0 685.0,580.0"/>
<polygon fill="#24408e" points="875.9,495.0 882.6,495.0 882.6,512.5 875.9,512.5"/>
<polygon fill="#24408e" points="905.4,243.6 908.7,243.6 908.7,334.5 905.4,334.5"/>
<polygon fill="#24408e" points="934.2,275.6 938.6,275.6 938.6,334.5 934.2,334.5"/>
<polygon fill="#24408e" points="962.9,237.1 966.9,237.1 966.9,338.2 962.9,338.2"/>
<polygon fill="#24408e" points="992.4,189.1 996.4,189.1 996.4,290.9 992.4,290.9"/>
<polygon fill="#24408e" points="995.4,290.9 998.8,290.9 998.8,363.6 995.4,363.6"/>
<polygon fill="#24408e" points="1019.6,183.6 1023.3,183.6 1023.3,250.9 1019.6,250.9"/>
<polygon fill="#24408e" points="1023.4,235.3 1027.2,235.3 1027.2,327.3 1023.4,327.3"/>
<polygon fill="#24408e" points="1025.6,327.3 1029.7,327.3 1029.7,363.6 1025.6,363.6"/>
<polygon fill="#24408e" points="1050.7,341.8 1053.7,341.8 1053.7,425.5 1050.7,425.5"/>
<polygon fill="#24408e" points="1053.9,388.0 1056.6,388.0 1056.6,425.5 1053.9,425.5"/>
<polygon fill="#24408e" points="1072.7,469.5 1078.6,469.5 1078.6,517.5 1072.7,517.5"/>
<polygon fill="#24408e" points="1106.5,262.5 1111.6,262.5 1111.6,290.9 1106.5,290.9"/>
<polygon fill="#24408e" points="1135.6,338.2 1139.6,338.2 1139.6,363.6 1135.6,363.6"/>
<polygon fill="#24408e" points="1139.8,266.2 1143.2,266.2 1143.2,374.5 1139.8,374.5"/>
<polygon fill="#24408e" points="1142.3,374.5 1145.3,374.5 1145.3,440.0 1142.3,440.0"/>
<polygon fill="#24408e" points="1164.0,206.2 1168.4,206.2 1168.4,330.9 1164.0,330.9"/>
<polygon fill="#24408e" points="1193.1,266.2 1196.7,266.2 1196.7,281.7 1193.1,281.7"/>
<polygon fill="#24408e" points="1216.9,330.8 1227.4,330.8 1227.4,343.6 1216.9,343.6"/>
<polygon fill="#24408e" points="1221.1,216.0 1225.9,216.0 1225.9,285.6 1221.1,285.6"/>
<polygon fill="#24408e" points="1222.3,254.6 1227.4,254.6 1227.4,285.6 1222.3,285.6"/>
<polygon fill="#24408e" points="1250.1,288.7 1258.0,288.7 1258.0,372.6 1250.1,372.6"/>
<polygon fill="#24408e" points="1279.9,124.7 1283.9,124.7 1283.9,219.8 1279.9,219.8"/>
<polygon fill="#24408e" points="1282.6,219.8 1286.2,219.8 1286.2,274.0 1282.6,274.0"/>
<polygon fill="#24408e" points="1306.9,123.2 1312.5,123.2 1312.5,231.4 1306.9,231.4"/>
<polygon fill="#24408e" points="1337.1,190.5 1342.2,190.5 1342.2,285.6 1337.1,285.6"/>
<polygon fill="#24408e" points="1334.0,285.6 1345.0,285.6 1345.0,314.6 1334.0,314.6"/>
<polygon fill="#24408e" points="1363.8,216.0 1369.3,216.0 1369.3,332.0 1363.8,332.0"/>
<polygon fill="#24408e" points="1363.8,241.9 1372.0,241.9 1372.0,332.0 1363.8,332.0"/>
<polygon fill="#24408e" points="1366.9,332.0 1372.8,332.0 1372.8,401.5 1366.9,401.5"/>
<polygon fill="#24408e" points="1393.9,183.9 1397.9,183.9 1397.9,254.6 1393.9,254.6"/>
<polygon fill="#24408e" points="1421.0,226.4 1428.8,226.4 1428.8,270.1 1421.0,270.1"/>
<polygon fill="#24408e" points="1421.0,270.1 1426.5,270.1 1426.5,281.7 1421.0,281.7"/>
<polygon fill="#24408e" points="1449.4,192.8 1453.0,192.8 1453.0,239.2 1449.4,239.2"/>
<polygon fill="#24408e" points="1450.0,239.9 1456.7,239.9 1456.7,393.8 1450.0,393.8"/>
<polygon fill="#24408e" points="1477.3,211.3 1482.6,211.3 1482.6,275.2 1477.3,275.2"/>
<polygon fill="#24408e" points="1475.8,273.8 1479.2,273.8 1479.2,330.6 1475.8,330.6"/>
<polygon fill="#24408e" points="1491.7,508.8 1501.6,508.8 1501.6,530.0 1491.7,530.0"/>
</g>
<g filter="url(#bl)">
<line x1="1192.2" x2="1192.2" y1="270" y2="340" stroke="#a3aadb" stroke-width="3.6"/>
<line x1="1219.8" x2="1219.8" y1="345" y2="431" stroke="#a3aadb" stroke-width="3.6"/>
<line x1="1248.8" x2="1248.8" y1="334" y2="431" stroke="#a3aadb" stroke-width="3.6"/>
<line x1="1312" x2="1312" y1="150" y2="270" stroke="#a3aadb" stroke-width="3.6"/>
<line x1="1338.8" x2="1338.8" y1="316" y2="370" stroke="#a3aadb" stroke-width="3.6"/>
<line x1="1335.5" x2="1335.5" y1="322" y2="354" stroke="#a3aadb" stroke-width="3.6"/>
<line x1="1366" x2="1366" y1="136" y2="181" stroke="#a3aadb" stroke-width="3.6"/>
<line x1="1395.8" x2="1395.8" y1="256" y2="328" stroke="#a3aadb" stroke-width="3.6"/>
<line x1="1427.3" x2="1427.3" y1="274" y2="340" stroke="#a3aadb" stroke-width="3.6"/>
<line x1="1428.8" x2="1428.8" y1="340" y2="405" stroke="#a3aadb" stroke-width="3.6"/>
<line x1="1449.5" x2="1449.5" y1="311" y2="431" stroke="#a3aadb" stroke-width="3.6"/>
<line x1="904.4" x2="904.4" y1="340" y2="431" stroke="#a3aadb" stroke-width="3.6"/>
<line x1="910.1" x2="910.1" y1="336" y2="414" stroke="#a3aadb" stroke-width="3.6"/>
<line x1="936.2" x2="936.2" y1="229" y2="274" stroke="#a3aadb" stroke-width="3.6"/>
<line x1="937.6" x2="937.6" y1="336" y2="431" stroke="#a3aadb" stroke-width="3.6"/>
<line x1="1019" x2="1019" y1="285" y2="349" stroke="#a3aadb" stroke-width="3.6"/>
<line x1="1111.8" x2="1111.8" y1="293" y2="431" stroke="#a3aadb" stroke-width="3.6"/>
<line x1="1140.5" x2="1140.5" y1="231" y2="265" stroke="#a3aadb" stroke-width="3.6"/>
<line x1="1134.2" x2="1134.2" y1="365" y2="431" stroke="#a3aadb" stroke-width="3.6"/>
<line x1="1166" x2="1166" y1="173.5" y2="205" stroke="#a3aadb" stroke-width="3.6"/>
<line x1="1505" x2="1505" y1="258.5" y2="303" stroke="#a3aadb" stroke-width="3.6"/>
</g>
<text class="yl" x="285.3" y="112.0" textLength="34" lengthAdjust="spacingAndGlyphs">74.0</text>
<text class="yl" x="285.3" y="175.2" textLength="34" lengthAdjust="spacingAndGlyphs">66.5</text>
<text class="yl" x="285.3" y="238.4" textLength="34" lengthAdjust="spacingAndGlyphs">59.0</text>
<text class="yl" x="285.3" y="302.1" textLength="34" lengthAdjust="spacingAndGlyphs">51.5</text>
<text class="yl" x="285.3" y="365.1" textLength="34" lengthAdjust="spacingAndGlyphs">44.0</text>
<text class="yl" x="285.3" y="427.9" textLength="34" lengthAdjust="spacingAndGlyphs">36.5</text>
<text class="yl" x="285.3" y="491.8" textLength="34" lengthAdjust="spacingAndGlyphs">29.0</text>
<text class="yl" x="285.3" y="554.8" textLength="34" lengthAdjust="spacingAndGlyphs">21.5</text>
<text class="yl" x="285.3" y="617.8" textLength="34" lengthAdjust="spacingAndGlyphs">14.0</text>
<text class="yl" x="295.8" y="680.6" textLength="23.5" lengthAdjust="spacingAndGlyphs">6.5</text>
<text class="yl" x="290.8" y="729.9" textLength="28.5" lengthAdjust="spacingAndGlyphs">-1.0</text>
<text style="font-family:'DejaVu Sans',sans-serif;font-weight:bold;font-size:16.5px;fill:#2c4193" transform="translate(272.5,520) rotate(-90)" textLength="201" lengthAdjust="spacingAndGlyphs">Temperature (° C)</text>
<g clip-path="url(#ct)"><text class="tt" x="645" y="92.6" textLength="104" lengthAdjust="spacingAndGlyphs">TempTale4</text><text class="tt" x="775" y="92.6" textLength="167" lengthAdjust="spacingAndGlyphs">Trip: 3449404022</text><text class="tt" x="968" y="92.6" textLength="225" lengthAdjust="spacingAndGlyphs">Serial: 3449404022 - 0</text></g>
<g clip-path="url(#cx)">
<text class="xl" x="236.5" y="764.5" textLength="187" lengthAdjust="spacingAndGlyphs">2005/05/18 12:12:32 PM</text>
<text class="xl" x="432.5" y="764.5" textLength="187" lengthAdjust="spacingAndGlyphs">2005/05/25 09:05:02 AM</text>
<text class="xl" x="628.5" y="764.5" textLength="187" lengthAdjust="spacingAndGlyphs">2005/06/01 05:57:32 AM</text>
<text class="xl" x="824.5" y="764.5" textLength="187" lengthAdjust="spacingAndGlyphs">2005/06/08 02:50:02 AM</text>
<text class="xl" x="1020.5" y="764.5" textLength="187" lengthAdjust="spacingAndGlyphs">2005/06/14 11:42:32 PM</text>
<text class="xl" x="1216.5" y="764.5" textLength="187" lengthAdjust="spacingAndGlyphs">2005/06/21 08:35:02 PM</text>
<text class="xl" x="1412.5" y="764.5" textLength="187" lengthAdjust="spacingAndGlyphs">2005/06/28 05:27:32 PM</text>
</g>
<text x="861" y="817" textLength="113.6" lengthAdjust="spacingAndGlyphs" style="font-family:'DejaVu Sans',sans-serif;font-weight:bold;font-size:19px;fill:#222">Date / Time</text>
<line x1="1344" x2="1364" y1="805.7" y2="805.7" stroke="#2a43a3" stroke-width="3"/><rect x="1350" y="800.3" width="10.2" height="11.3" fill="#2a43a3"/>
<text x="1368" y="813.2" textLength="131.6" lengthAdjust="spacingAndGlyphs" style="font-family:'Liberation Sans',sans-serif;font-size:18px;fill:#3a3a3a">Primary: Ambient</text>
</svg></body></html>
